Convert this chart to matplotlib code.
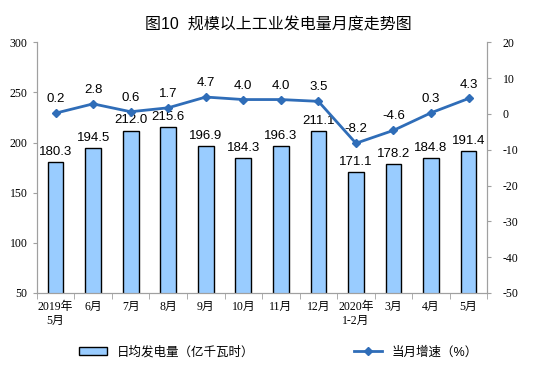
import matplotlib.pyplot as plt
import numpy as np

plt.rcParams['font.family'] = ['Liberation Sans', 'Noto Sans CJK SC', 'DejaVu Sans']
plt.rcParams['axes.unicode_minus'] = False

months = ['2019年\n5月', '6月', '7月', '8月', '9月', '10月', '11月', '12月',
          '2020年\n1-2月', '3月', '4月', '5月']
daily_gen = [180.3, 194.5, 212.0, 215.6, 196.9, 184.3, 196.3, 211.1, 171.1, 178.2, 184.8, 191.4]
growth = [0.2, 2.8, 0.6, 1.7, 4.7, 4.0, 4.0, 3.5, -8.2, -4.6, 0.3, 4.3]

serif = ['Liberation Serif', 'Noto Sans CJK SC']
line_color = '#2F6DB8'

fig = plt.figure(figsize=(5.57, 3.84), dpi=100)
ax = fig.add_axes([0.066, 0.237, 0.809, 0.653])
ax2 = ax.twinx()

x = np.arange(len(months))
ax.bar(x, daily_gen, width=0.42, bottom=0, color='#99CCFF', edgecolor='black', linewidth=1.0,
       label='日均发电量（亿千瓦时）', zorder=2)
for xi, v in zip(x, daily_gen):
    ax.text(xi, v + 4, f'{v:.1f}', ha='center', va='bottom', fontsize=9.5)

ax2.plot(x, growth, color=line_color, lw=2, marker='D', ms=4, label='当月增速（%）', zorder=3)
for xi, v in zip(x, growth):
    ax2.text(xi, v + 2.2, f'{v:.1f}', ha='center', va='bottom', fontsize=9.5)

ax.set_ylim(50, 300)
ax2.set_ylim(-50, 20)
ax.set_xlim(-0.5, len(months) - 0.5)
ax.set_yticks(range(50, 301, 50))
ax2.set_yticks(range(-50, 21, 10))
ax.set_xticks(x)
ax.set_xticklabels(months, family=serif, fontsize=8.5)
for t in ax.get_yticklabels():
    t.set_family(serif)
    t.set_fontsize(8.5)
for t in ax2.get_yticklabels():
    t.set_family(serif)
    t.set_fontsize(8.5)

for a in (ax, ax2):
    a.spines['top'].set_visible(False)
    for s in ('left', 'right', 'bottom'):
        a.spines[s].set_color('#A0A0A0')
    a.tick_params(colors='#A0A0A0', labelcolor='black', length=3)
ax.set_xticks(np.arange(-0.5, len(months), 1), minor=True)
ax.tick_params(axis='x', which='major', length=0, pad=6)
ax.tick_params(axis='x', which='minor', length=4, color='#A0A0A0')
ax2.tick_params(axis='y', pad=8)

fig.suptitle('图10  规模以上工业发电量月度走势图', y=0.955, fontsize=11.5)

h1, l1 = ax.get_legend_handles_labels()
h2, l2 = ax2.get_legend_handles_labels()
fig.legend(h1 + h2, l1 + l2, loc='center', bbox_to_anchor=(0.5, 0.083), ncol=2,
           frameon=False, fontsize=9, handlelength=2.2, handleheight=0.5, columnspacing=8)

fig.savefig('out.png', dpi=100)
